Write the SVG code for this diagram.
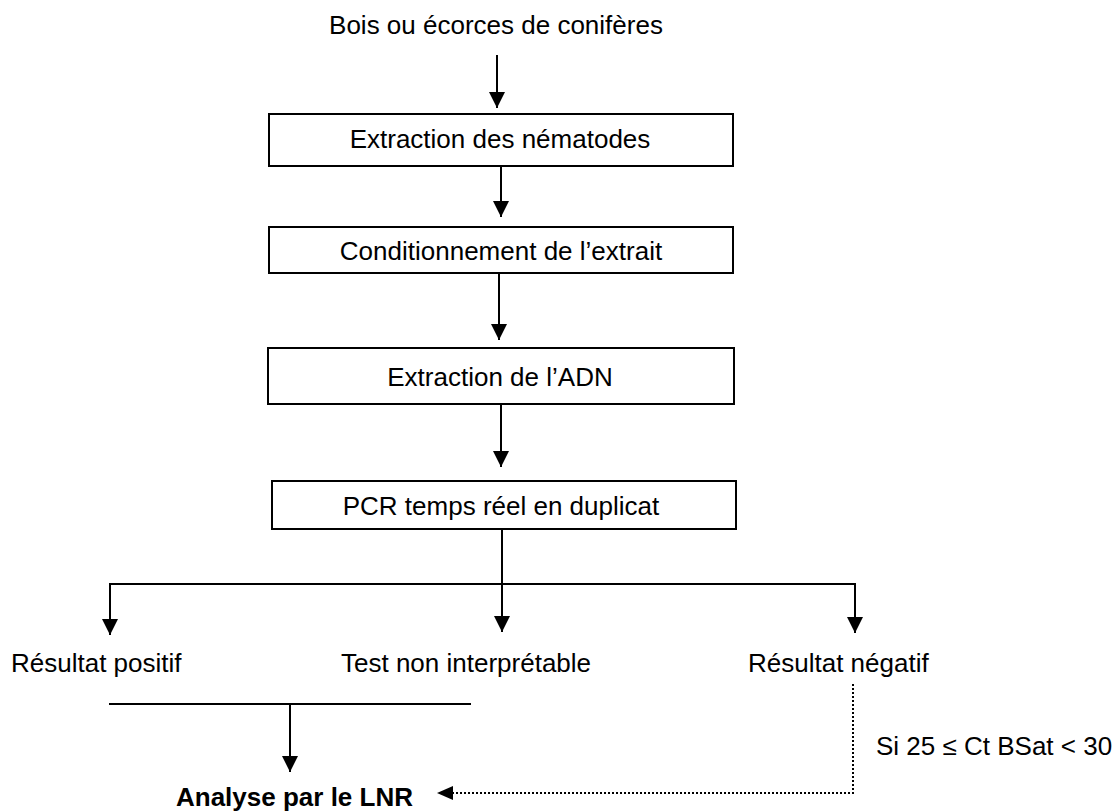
<svg xmlns="http://www.w3.org/2000/svg" width="1119" height="812" viewBox="0 0 1119 812">
<style>
text{font-family:"Liberation Sans",Arial,sans-serif;font-size:26px;fill:#000}
.box{fill:#fff;stroke:#000;stroke-width:2}
.arr{stroke:#000;stroke-width:2;fill:none;marker-end:url(#ah)}
.ln{stroke:#000;stroke-width:2;fill:none}
.dot{stroke:#000;stroke-width:2;fill:none;stroke-dasharray:2 2}
</style>
<defs>
<marker id="ah" markerUnits="userSpaceOnUse" markerWidth="16" markerHeight="16" viewBox="0 0 16 16" refX="16" refY="8" orient="auto">
<path d="M0,0 L16,8 L0,16 Z" fill="#000"/>
</marker>
</defs>
<rect width="1119" height="812" fill="#fff"/>
<g id="start"><text x="496" y="34" text-anchor="middle">Bois ou écorces de conifères</text></g>
<g id="n1"><rect class="box" x="269" y="114" width="464" height="52"/><text x="500" y="148" text-anchor="middle">Extraction des nématodes</text></g>
<g id="n2"><rect class="box" x="269" y="227" width="464" height="46"/><text x="501" y="260" text-anchor="middle">Conditionnement de l’extrait</text></g>
<g id="n3"><rect class="box" x="268" y="348" width="466" height="56"/><text x="500" y="386" text-anchor="middle">Extraction de l’ADN</text></g>
<g id="n4"><rect class="box" x="272" y="481" width="464" height="48"/><text x="501" y="515" text-anchor="middle">PCR temps réel en duplicat</text></g>
<g id="pos"><text x="11" y="672">Résultat positif</text></g>
<g id="nonint"><text x="341" y="672">Test non interprétable</text></g>
<g id="neg"><text x="748" y="672">Résultat négatif</text></g>
<g id="lnr"><text x="176" y="806" font-weight="bold">Analyse par le LNR</text></g>
<g id="cond"><text x="876" y="755">Si 25 ≤ Ct BSat &lt; 30</text></g>
<g id="connectors">
<line class="arr" x1="497" y1="55" x2="497" y2="108"/>
<line class="arr" x1="501" y1="166" x2="501" y2="217"/>
<line class="arr" x1="499" y1="273" x2="499" y2="340"/>
<line class="arr" x1="501" y1="404" x2="501" y2="467"/>
<line class="ln" x1="502" y1="529" x2="502" y2="584"/>
<line class="ln" x1="109" y1="584" x2="856" y2="584"/>
<line class="arr" x1="110" y1="584" x2="110" y2="635"/>
<line class="arr" x1="502" y1="584" x2="502" y2="632"/>
<line class="arr" x1="855" y1="584" x2="855" y2="633"/>
<line class="ln" x1="109" y1="704" x2="471" y2="704"/>
<line class="arr" x1="290" y1="704" x2="290" y2="772"/>
<polyline class="dot" points="853,684 853,793 452,793"/>
<path d="M437,793 L453,786 L453,800 Z" fill="#000"/>
</g>
</svg>
